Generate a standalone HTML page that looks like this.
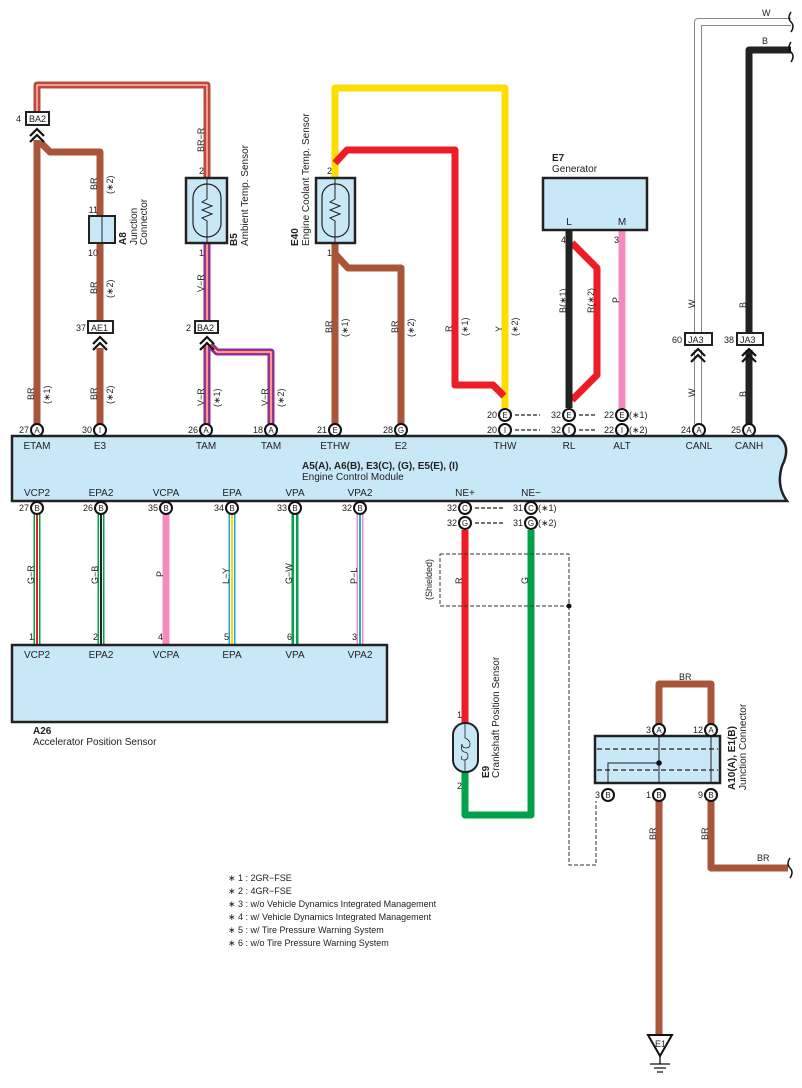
<!DOCTYPE html>
<html><head><meta charset="utf-8"><style>
html,body{margin:0;padding:0;background:#fff}
svg{display:block}
text{font-family:"Liberation Sans",sans-serif;fill:#222}
.s{font-size:9px}
.m{font-size:10px}
.b{font-weight:bold}
</style></head><body>
<svg width="802" height="1088" viewBox="0 0 802 1088" xmlns="http://www.w3.org/2000/svg">
<defs>
<g id="chev"><path d="M-7,5 L0,-2 L7,5 M-7,11 L0,4 L7,11" fill="none" stroke="#111" stroke-width="2.2"/></g>
</defs>
<g fill="none" stroke-linejoin="round">
<path d="M37,112 V85 H207 V178" stroke="#a8553a" stroke-width="7"/>
<path d="M37,112 V85 H207 V178" stroke="#f03030" stroke-width="3"/>
<path d="M37,112 V85 H207 V178" stroke="#fff" stroke-width="1"/>
<path d="M37,140 V424" stroke="#a8553a" stroke-width="7"/>
<path d="M40,142 L50,152 H100 V216" stroke="#a8553a" stroke-width="7"/>
<path d="M100,243 V320" stroke="#a8553a" stroke-width="7"/>
<path d="M100,348 V424" stroke="#a8553a" stroke-width="7"/>
<path d="M207,243 V320 M207,345 V424 M210,345 L217,352 H271 V424" stroke="#7a35a0" stroke-width="7"/>
<path d="M207,243 V320 M207,345 V424 M210,345 L217,352 H271 V424" stroke="#f03030" stroke-width="3"/>
<path d="M207,243 V320 M207,345 V424 M210,345 L217,352 H271 V424" stroke="#fff" stroke-width="1"/>
<path d="M335,178 V88 H505 V408" stroke="#ffdd00" stroke-width="7"/>
<path d="M335,163 L347,150 H455 V385 H493 L504,396" stroke="#ee1c25" stroke-width="7"/>
<path d="M335,243 V424 M336,255 L348,268 H401 V424" stroke="#a8553a" stroke-width="7"/>
<path d="M572,243 L597,268 V375 L572,400" stroke="#ee1c25" stroke-width="7"/>
<path d="M569,230 V408" stroke="#222" stroke-width="7"/>
<path d="M622,230 V408" stroke="#f58bbd" stroke-width="7"/>
<path d="M791,22 H698 V333 M698,350 V424" stroke="#888" stroke-width="8"/>
<path d="M791,22 H698 V333 M698,350 V424" stroke="#fff" stroke-width="6"/>
<path d="M791,50 H749 V333 M749,350 V424" stroke="#222" stroke-width="7"/>
<path d="M37,514 V645" stroke="#00a14b" stroke-width="7"/><path d="M37,514 V645" stroke="#fff" stroke-width="4"/><path d="M37,514 V645" stroke="#ee1c25" stroke-width="2"/>
<path d="M101,514 V645" stroke="#00a14b" stroke-width="7"/><path d="M101,514 V645" stroke="#fff" stroke-width="4"/><path d="M101,514 V645" stroke="#222" stroke-width="2"/>
<path d="M166,514 V645" stroke="#f58bbd" stroke-width="7"/>
<path d="M232,514 V645" stroke="#1aa7e8" stroke-width="7"/><path d="M232,514 V645" stroke="#fff" stroke-width="4"/><path d="M232,514 V645" stroke="#ffdd00" stroke-width="2"/>
<path d="M295,514 V645" stroke="#00a14b" stroke-width="7"/><path d="M295,514 V645" stroke="#fff" stroke-width="2"/>
<path d="M360,514 V645" stroke="#f58bbd" stroke-width="7"/><path d="M360,514 V645" stroke="#fff" stroke-width="4"/><path d="M360,514 V645" stroke="#1aa7e8" stroke-width="2"/>
<path d="M465,530 V725" stroke="#ee1c25" stroke-width="7"/>
<path d="M465,770 V815 H531 V530" stroke="#00a14b" stroke-width="7"/>
<path d="M659,730 V684 H711 V730" stroke="#a8553a" stroke-width="7"/>
<path d="M659,801 V1035" stroke="#a8553a" stroke-width="7"/>
<path d="M711,801 V868 H788" stroke="#a8553a" stroke-width="7"/>
<path d="M440,554 H569 V606 H440 Z M569,606 V865 H596 V801" stroke="#333" stroke-width="1" stroke-dasharray="4,2"/>
<path d="M515,415 H540 M515,430 H540 M579,415 H596 M579,430 H596 M475,508 H505 M475,523 H505" stroke="#222" stroke-width="1.2" stroke-dasharray="4,2"/>
<path d="M791,12 Q787,18 791,22 Q795,26 791,32 M791,42 Q787,48 791,52 Q795,56 791,62 M790,858 Q786,864 790,868 Q794,872 790,878" stroke="#111" stroke-width="1.5"/>
</g>
<circle cx="569" cy="606" r="2.5" fill="#111"/>

<path d="M12,436 H778 Q792,446 782,466 Q776,486 787,501 H12 Z" fill="#c8e8f8" stroke="#222" stroke-width="2.5"/>
<rect x="12" y="645" width="375" height="77" fill="#c8e8f8" stroke="#222" stroke-width="2.5"/>
<rect x="543" y="178" width="104" height="52" fill="#c8e8f8" stroke="#222" stroke-width="2.5"/>
<rect x="186" y="178" width="41" height="65" fill="#c8e8f8" stroke="#222" stroke-width="2.5"/>
<rect x="193" y="184" width="28" height="53" rx="14" fill="none" stroke="#222" stroke-width="1.2"/>
<path d="M207,178 V199 L202,202 L212,206 L202,210 L212,214 L202,218 L207,221 V243" fill="none" stroke="#222" stroke-width="1"/>
<rect x="316" y="178" width="39" height="65" fill="#c8e8f8" stroke="#222" stroke-width="2.5"/>
<rect x="322" y="184" width="27" height="53" rx="13" fill="none" stroke="#222" stroke-width="1.2"/>
<path d="M335,178 V199 L330,202 L340,206 L330,210 L340,214 L330,218 L335,221 V243" fill="none" stroke="#222" stroke-width="1"/>
<rect x="89" y="216" width="26" height="27" fill="#c8e8f8" stroke="#222" stroke-width="2"/>
<line x1="102" y1="216" x2="102" y2="243" stroke="#222" stroke-width="1"/>
<rect x="453" y="723" width="25" height="49" rx="12" fill="#c8e8f8" stroke="#222" stroke-width="2"/>
<path d="M465,723 V738 Q470,740 470,744 M462,744 Q462,748 466,748 Q470,748 470,744 M462,744 Q460,750 464,752 Q468,752 468,756 Q468,760 464,760 Q460,760 462,756 M465,760 V772" fill="none" stroke="#222" stroke-width="0.8"/>
<rect x="595" y="736" width="125" height="47" fill="#c8e8f8" stroke="#222" stroke-width="2.5"/>
<path d="M597,749 H718 M597,770 H718" stroke="#222" stroke-width="1.2" stroke-dasharray="5,3"/>
<path d="M659,736 V783 M711,736 V783 M608,783 V763 H659" fill="none" stroke="#222" stroke-width="1"/>
<circle cx="659" cy="763" r="2.8" fill="#111"/>
<path d="M648,1035 H672 L660,1056 Z" fill="#fff" stroke="#111" stroke-width="2"/>
<path d="M660,1056 V1064 M650,1064 H670 M654,1068 H666 M657,1072 H663" stroke="#111" stroke-width="1.3"/>
<text x="655" y="1047" class="s">E1</text>

<g fill="#fff" stroke="#222" stroke-width="2">
<rect x="26" y="112" width="23" height="13"/>
<rect x="88" y="321" width="25" height="12"/>
<rect x="195" y="321" width="23" height="12"/>
<rect x="685" y="333" width="27" height="12"/>
<rect x="737" y="333" width="26" height="12"/>
</g>
<use href="#chev" x="37" y="131"/>
<use href="#chev" x="100" y="339"/>
<use href="#chev" x="207" y="339"/>
<use href="#chev" x="698" y="351"/>
<use href="#chev" x="749" y="351"/>
<text x="29" y="122" class="s">BA2</text><text x="16" y="122" class="s">4</text>
<text x="91" y="331" class="s">AE1</text><text x="76" y="331" class="s">37</text>
<text x="197" y="331" class="s">BA2</text><text x="186" y="331" class="s">2</text>
<text x="688" y="343" class="s">JA3</text><text x="672" y="343" class="s">60</text>
<text x="740" y="343" class="s">JA3</text><text x="724" y="343" class="s">38</text>

<g fill="#fff" stroke="#111" stroke-width="2">
<circle cx="37" cy="430" r="6"/><circle cx="100" cy="430" r="6"/><circle cx="206" cy="430" r="6"/><circle cx="271" cy="430" r="6"/><circle cx="335" cy="430" r="6"/><circle cx="401" cy="430" r="6"/>
<circle cx="505" cy="415" r="6"/><circle cx="505" cy="430" r="6"/><circle cx="569" cy="415" r="6"/><circle cx="569" cy="430" r="6"/><circle cx="622" cy="415" r="6"/><circle cx="622" cy="430" r="6"/>
<circle cx="699" cy="430" r="6"/><circle cx="749" cy="430" r="6"/>
<circle cx="37" cy="508" r="6"/><circle cx="101" cy="508" r="6"/><circle cx="166" cy="508" r="6"/><circle cx="232" cy="508" r="6"/><circle cx="295" cy="508" r="6"/><circle cx="360" cy="508" r="6"/>
<circle cx="465" cy="508" r="6"/><circle cx="465" cy="523" r="6"/><circle cx="531" cy="508" r="6"/><circle cx="531" cy="523" r="6"/>
<circle cx="659" cy="730" r="6"/><circle cx="711" cy="730" r="6"/><circle cx="608" cy="795" r="6"/><circle cx="659" cy="795" r="6"/><circle cx="711" cy="795" r="6"/>
</g>
<g text-anchor="middle" font-size="8">
<text x="37" y="433" font-size="8">A</text><text x="100" y="433" font-size="8">I</text><text x="206" y="433" font-size="8">A</text><text x="271" y="433" font-size="8">A</text><text x="335" y="433" font-size="8">E</text><text x="401" y="433" font-size="8">G</text>
<text x="505" y="418" font-size="8">E</text><text x="505" y="433" font-size="8">I</text><text x="569" y="418" font-size="8">E</text><text x="569" y="433" font-size="8">I</text><text x="622" y="418" font-size="8">E</text><text x="622" y="433" font-size="8">I</text>
<text x="699" y="433" font-size="8">A</text><text x="749" y="433" font-size="8">A</text>
<text x="37" y="511" font-size="8">B</text><text x="101" y="511" font-size="8">B</text><text x="166" y="511" font-size="8">B</text><text x="232" y="511" font-size="8">B</text><text x="295" y="511" font-size="8">B</text><text x="360" y="511" font-size="8">B</text>
<text x="465" y="511" font-size="8">C</text><text x="465" y="526" font-size="8">G</text><text x="531" y="511" font-size="8">C</text><text x="531" y="526" font-size="8">G</text>
<text x="659" y="733" font-size="8">A</text><text x="711" y="733" font-size="8">A</text><text x="608" y="798" font-size="8">B</text><text x="659" y="798" font-size="8">B</text><text x="711" y="798" font-size="8">B</text>
</g>
<g class="s" text-anchor="end">
<text x="29" y="433">27</text><text x="92" y="433">30</text><text x="198" y="433">26</text><text x="263" y="433">18</text><text x="327" y="433">21</text><text x="393" y="433">28</text>
<text x="497" y="418">20</text><text x="497" y="433">20</text><text x="561" y="418">32</text><text x="561" y="433">32</text><text x="614" y="418">22</text><text x="614" y="433">22</text>
<text x="691" y="433">24</text><text x="741" y="433">25</text>
<text x="29" y="511">27</text><text x="93" y="511">26</text><text x="158" y="511">35</text><text x="224" y="511">34</text><text x="287" y="511">33</text><text x="352" y="511">32</text>
<text x="457" y="511">32</text><text x="457" y="526">32</text><text x="523" y="511">31</text><text x="523" y="526">31</text>
<text x="651" y="733">3</text><text x="703" y="733">12</text><text x="600" y="798">3</text><text x="651" y="798">1</text><text x="703" y="798">9</text>
<text x="34" y="640">1</text><text x="98" y="640">2</text><text x="163" y="640">4</text><text x="229" y="640">5</text><text x="292" y="640">6</text><text x="357" y="640">3</text>
<text x="204" y="174">2</text><text x="204" y="256">1</text><text x="332" y="174">2</text><text x="332" y="256">1</text>
<text x="98" y="213">11</text><text x="98" y="256">10</text>
<text x="566" y="243">4</text><text x="619" y="243">3</text>
<text x="462" y="718">1</text><text x="462" y="789">2</text>
</g>
<text x="629" y="418" class="s">(∗1)</text><text x="629" y="433" class="s">(∗2)</text>
<text x="538" y="511" class="s">(∗1)</text><text x="538" y="526" class="s">(∗2)</text>

<g class="m" text-anchor="middle">
<text x="37" y="449">ETAM</text><text x="100" y="449">E3</text><text x="206" y="449">TAM</text><text x="271" y="449">TAM</text><text x="335" y="449">ETHW</text><text x="401" y="449">E2</text>
<text x="505" y="449">THW</text><text x="569" y="449">RL</text><text x="622" y="449">ALT</text><text x="699" y="449">CANL</text><text x="749" y="449">CANH</text>
<text x="37" y="496">VCP2</text><text x="101" y="496">EPA2</text><text x="166" y="496">VCPA</text><text x="232" y="496">EPA</text><text x="295" y="496">VPA</text><text x="360" y="496">VPA2</text>
<text x="465" y="496">NE+</text><text x="531" y="496">NE−</text>
<text x="37" y="658">VCP2</text><text x="101" y="658">EPA2</text><text x="166" y="658">VCPA</text><text x="232" y="658">EPA</text><text x="295" y="658">VPA</text><text x="360" y="658">VPA2</text>
<text x="569" y="225">L</text><text x="622" y="225">M</text>
</g>
<text x="302" y="469" class="m b">A5(A), A6(B), E3(C), (G), E5(E), (I)</text>
<text x="302" y="480" class="m">Engine Control Module</text>
<text x="33" y="734" class="m b">A26</text>
<text x="33" y="745" class="m">Accelerator Position Sensor</text>
<text x="552" y="161" class="m b">E7</text>
<text x="552" y="172" class="m">Generator</text>

<g class="s">
<text x="762" y="16">W</text><text x="762" y="44">B</text><text x="679" y="680">BR</text><text x="757" y="861">BR</text>
</g>
<g class="s">
<text transform="translate(34,400) rotate(-90)">BR</text><text transform="translate(50,404) rotate(-90)">(∗1)</text>
<text transform="translate(97,190) rotate(-90)">BR</text><text transform="translate(113,194) rotate(-90)">(∗2)</text>
<text transform="translate(97,294) rotate(-90)">BR</text><text transform="translate(113,298) rotate(-90)">(∗2)</text>
<text transform="translate(97,400) rotate(-90)">BR</text><text transform="translate(113,404) rotate(-90)">(∗2)</text>
<text transform="translate(204,152) rotate(-90)">BR−R</text>
<text transform="translate(204,292) rotate(-90)">V−R</text>
<text transform="translate(204,406) rotate(-90)">V−R</text><text transform="translate(220,407) rotate(-90)">(∗1)</text>
<text transform="translate(268,406) rotate(-90)">V−R</text><text transform="translate(284,407) rotate(-90)">(∗2)</text>
<text transform="translate(332,333) rotate(-90)">BR</text><text transform="translate(348,337) rotate(-90)">(∗1)</text>
<text transform="translate(398,333) rotate(-90)">BR</text><text transform="translate(414,337) rotate(-90)">(∗2)</text>
<text transform="translate(452,332) rotate(-90)">R</text><text transform="translate(468,336) rotate(-90)">(∗1)</text>
<text transform="translate(502,332) rotate(-90)">Y</text><text transform="translate(518,336) rotate(-90)">(∗2)</text>
<text transform="translate(566,313) rotate(-90)">B(∗1)</text>
<text transform="translate(594,313) rotate(-90)">R(∗2)</text>
<text transform="translate(619,303) rotate(-90)">P</text>
<text transform="translate(695,308) rotate(-90)">W</text><text transform="translate(695,397) rotate(-90)">W</text>
<text transform="translate(746,308) rotate(-90)">B</text><text transform="translate(746,397) rotate(-90)">B</text>
<text transform="translate(34,584) rotate(-90)">G−R</text>
<text transform="translate(98,584) rotate(-90)">G−B</text>
<text transform="translate(163,577) rotate(-90)">P</text>
<text transform="translate(229,584) rotate(-90)">L−Y</text>
<text transform="translate(292,584) rotate(-90)">G−W</text>
<text transform="translate(357,584) rotate(-90)">P−L</text>
<text transform="translate(462,584) rotate(-90)">R</text>
<text transform="translate(528,584) rotate(-90)">G</text>
<text transform="translate(432,600) rotate(-90)">(Shielded)</text>
<text transform="translate(656,840) rotate(-90)">BR</text>
<text transform="translate(708,840) rotate(-90)">BR</text>
</g>
<g>
<text transform="translate(126,245) rotate(-90)" class="m b">A8</text>
<text transform="translate(137,245) rotate(-90)" class="m">Junction</text>
<text transform="translate(147,245) rotate(-90)" class="m">Connector</text>
<text transform="translate(237,246) rotate(-90)" class="m b">B5</text>
<text transform="translate(248,246) rotate(-90)" class="m">Ambient Temp.  Sensor</text>
<text transform="translate(298,246) rotate(-90)" class="m b">E40</text>
<text transform="translate(309,246) rotate(-90)" class="m">Engine Coolant Temp.  Sensor</text>
<text transform="translate(489,778) rotate(-90)" class="m b">E9</text>
<text transform="translate(499,778) rotate(-90)" class="m">Crankshaft Position Sensor</text>
<text transform="translate(735,790) rotate(-90)" class="m b">A10(A), E1(B)</text>
<text transform="translate(746,790) rotate(-90)" class="m">Junction Connector</text>
</g>
<g class="s">
<text x="228" y="881">∗ 1 : 2GR−FSE</text>
<text x="228" y="894">∗ 2 : 4GR−FSE</text>
<text x="228" y="907">∗ 3 : w/o Vehicle Dynamics Integrated Management</text>
<text x="228" y="920">∗ 4 : w/ Vehicle Dynamics Integrated Management</text>
<text x="228" y="933">∗ 5 : w/ Tire Pressure Warning System</text>
<text x="228" y="946">∗ 6 : w/o Tire Pressure Warning System</text>
</g>
</svg>
</body></html>
